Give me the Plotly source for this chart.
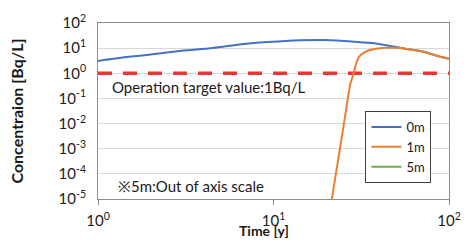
import plotly.graph_objects as go

# Data
t_0m = [1, 1.5, 2, 3, 4.5, 7, 10, 14, 19.8, 29, 37.6, 55.3, 71.6, 85, 100]
c_0m = [3.1, 4.5, 5.6, 7.8, 10.2, 15, 18, 20.5, 21, 18, 15.5, 9.7, 7.2, 5.0, 3.8]

t_1m = [21.5, 25.2, 27.3, 28.6, 29.5, 30.4, 31.3, 32.3, 35, 37.6, 40.5, 43.7, 47.5, 51.9, 55.3, 71.6, 85, 100]
c_1m = [1e-5, 1e-2, 0.34, 1.0, 2.3, 4.0, 5.2, 6.2, 8.2, 9.2, 9.9, 10.3, 10.45, 10.3, 9.7, 7.2, 5.0, 3.8]

# 5m: out of axis scale (no visible values)
t_5m = [1, 100]
c_5m = [None, None]

target_t = [1, 100]
target_c = [1, 1]

y_tick_exp = [-5, -4, -3, -2, -1, 0, 1, 2]
x_tick_exp = [0, 1, 2]

FONT = "Lato"
TXT = "#1a1a1a"

fig = go.Figure()

fig.add_trace(go.Scatter(x=target_t, y=target_c, mode="lines", showlegend=False,
                         line=dict(color="#EE3535", width=3.5, dash="14px,11px"),
                         hoverinfo="skip"))
fig.add_trace(go.Scatter(x=t_0m, y=c_0m, mode="lines", name="0m",
                         line=dict(color="#4472C4", width=2, shape="spline", smoothing=0.8)))
fig.add_trace(go.Scatter(x=t_1m, y=c_1m, mode="lines", name="1m",
                         line=dict(color="#ED7D31", width=2, shape="spline", smoothing=0.3)))
fig.add_trace(go.Scatter(x=t_5m, y=c_5m, mode="lines", name="5m",
                         line=dict(color="#70AD47", width=2)))

fig.update_xaxes(type="log", range=[0, 2],
                 tickvals=[10 ** e for e in x_tick_exp],
                 ticktext=[f"10<sup>{e}</sup>" for e in x_tick_exp],
                 showgrid=False, zeroline=False,
                 showline=True, linecolor="#8c8c8c", linewidth=1, mirror=True,
                 ticks="outside", ticklen=5, tickcolor="#8c8c8c",
                 ticklabelstandoff=3,
                 tickfont=dict(family=FONT, size=15, color=TXT))
fig.update_yaxes(type="log", range=[-5, 2],
                 tickvals=[10 ** e for e in y_tick_exp],
                 ticktext=[f"10<sup>{e}</sup>" for e in y_tick_exp],
                 showgrid=True, gridcolor="#D9D9D9", gridwidth=1, zeroline=False,
                 showline=True, linecolor="#8c8c8c", linewidth=1, mirror=True,
                 ticks="", ticklabelstandoff=8,
                 tickfont=dict(family=FONT, size=15, color=TXT),
                 title=dict(text="<b>Concentraion [Bq/L]</b>", standoff=30,
                            font=dict(family=FONT, size=16, color=TXT)))

fig.add_annotation(text="<b>Time [y]</b>", xref="paper", yref="paper",
                   x=0.472, y=-0.236, showarrow=False, xanchor="center", yanchor="bottom",
                   font=dict(family=FONT, size=14, color=TXT))
fig.add_annotation(text="Operation target value:1Bq/L", xref="paper", yref="paper",
                   x=0.0335, y=0.6375, showarrow=False, xanchor="left", yanchor="middle",
                   font=dict(family=FONT, size=15, color=TXT))
fig.add_annotation(text="※5m:Out of axis scale", xref="paper", yref="paper",
                   x=0.05, y=0.076, showarrow=False, xanchor="left", yanchor="middle",
                   font=dict(family=FONT, size=15, color=TXT))

fig.update_layout(width=473, height=244,
                  margin=dict(l=98, r=17, t=15, b=45),
                  paper_bgcolor="white", plot_bgcolor="white",
                  font=dict(family=FONT, size=15, color=TXT),
                  legend=dict(x=0.762, y=0.5, xanchor="left", yanchor="top",
                              bgcolor="white", bordercolor="#404040", borderwidth=1,
                              font=dict(family=FONT, size=13, color=TXT),
                              tracegroupgap=0, itemwidth=30))

fig.write_html("out.html", config={"displayModeBar": False},
               post_script="document.body.style.margin='0';")
